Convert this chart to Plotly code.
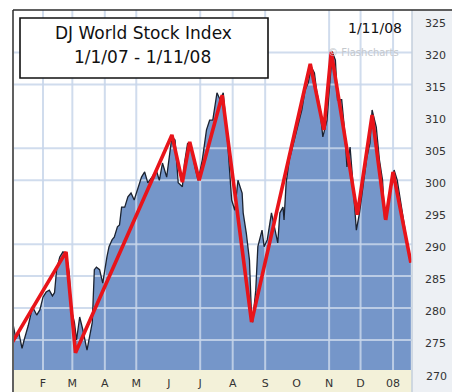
import plotly.graph_objects as go

# ---- data ----
dates = [
    "2007-01-03", "2007-01-06", "2007-01-09", "2007-01-12", "2007-01-14", "2007-01-18",
    "2007-01-22", "2007-01-26", "2007-01-29", "2007-02-01", "2007-02-04", "2007-02-07",
    "2007-02-10", "2007-02-12", "2007-02-14", "2007-02-17", "2007-02-20", "2007-02-23",
    "2007-02-26", "2007-02-28", "2007-03-03", "2007-03-05", "2007-03-08", "2007-03-11",
    "2007-03-15", "2007-03-18", "2007-03-20", "2007-03-22", "2007-03-24", "2007-03-27",
    "2007-03-30", "2007-04-03", "2007-04-05", "2007-04-08", "2007-04-10", "2007-04-13",
    "2007-04-15", "2007-04-17", "2007-04-20", "2007-04-23", "2007-04-26", "2007-04-29",
    "2007-05-02", "2007-05-06", "2007-05-09", "2007-05-12", "2007-05-16", "2007-05-20",
    "2007-05-23", "2007-05-26", "2007-05-30", "2007-06-02", "2007-06-04", "2007-06-07",
    "2007-06-10", "2007-06-14", "2007-06-16", "2007-06-19", "2007-06-23", "2007-06-26",
    "2007-06-29", "2007-07-03", "2007-07-07", "2007-07-10", "2007-07-13", "2007-07-17",
    "2007-07-20", "2007-07-23", "2007-07-25", "2007-07-27", "2007-07-31", "2007-08-03",
    "2007-08-06", "2007-08-10", "2007-08-11", "2007-08-14", "2007-08-17", "2007-08-19",
    "2007-08-20", "2007-08-23", "2007-08-25", "2007-08-29", "2007-08-31", "2007-09-03",
    "2007-09-07", "2007-09-10", "2007-09-13", "2007-09-15", "2007-09-18", "2007-09-19",
    "2007-09-21", "2007-09-24", "2007-09-27", "2007-10-01", "2007-10-06", "2007-10-09",
    "2007-10-12", "2007-10-15", "2007-10-18", "2007-10-20", "2007-10-23", "2007-10-26",
    "2007-10-30", "2007-11-01", "2007-11-04", "2007-11-07", "2007-11-09", "2007-11-13",
    "2007-11-16", "2007-11-18", "2007-11-21", "2007-11-23", "2007-11-27", "2007-11-30",
    "2007-12-03", "2007-12-07", "2007-12-10", "2007-12-12", "2007-12-16", "2007-12-19",
    "2007-12-22", "2007-12-24", "2007-12-27", "2007-12-31", "2008-01-02", "2008-01-05",
    "2008-01-09", "2008-01-12", "2008-01-15", "2008-01-18",
]
index_values = [
    277.8, 275.3, 276.1, 273.7, 275.0, 277.3,
    280.2, 278.9, 279.7, 281.7, 282.5, 282.8,
    281.9, 282.4, 286.0, 288.0, 288.8, 288.6,
    285.5, 279.7, 277.7, 275.0, 278.6, 276.6,
    273.4, 276.1, 277.7, 286.0, 286.4, 286.0,
    283.9, 288.0, 289.6, 290.7, 291.1, 292.7,
    293.0, 295.8, 295.8, 297.4, 298.0, 296.9,
    298.5, 300.5, 301.3, 299.6, 300.5, 301.6,
    300.0, 302.7, 300.5, 304.7, 306.8, 306.3,
    299.6, 299.0, 302.7, 305.8, 304.7, 302.1,
    300.0, 303.2, 307.9, 309.4, 309.4, 313.7,
    312.6, 313.7, 310.2, 306.3, 296.9, 295.3,
    300.0, 298.0, 294.9, 291.7, 287.5, 278.6,
    277.8, 282.8, 289.6, 292.2, 289.6, 290.7,
    294.9, 292.7, 290.2, 294.9, 295.8, 293.8,
    299.6, 303.2, 305.2, 307.9, 311.0, 314.1,
    315.2, 317.7, 316.8, 314.1, 311.5, 306.8,
    309.4, 313.7, 320.1, 318.8, 312.6, 312.6,
    307.4, 302.1, 305.2, 301.1, 292.2, 294.9,
    299.0, 303.6, 305.8, 311.0, 308.3, 303.2,
    300.0, 293.8, 295.8, 299.6, 301.6, 300.0,
    295.8, 292.2, 289.6, 287.2,
]

trend_dates = [
    "2007-01-03", "2007-02-23", "2007-03-04", "2007-06-04", "2007-06-14", "2007-06-21",
    "2007-06-30", "2007-07-22", "2007-08-19", "2007-10-14", "2007-10-27", "2007-11-03",
    "2007-11-28", "2007-12-12", "2007-12-25", "2008-01-01", "2008-01-18",
]
trend_values = [
    274.7, 288.8, 273.0, 307.1, 299.7, 306.0,
    300.0, 313.3, 277.8, 318.2, 307.9, 320.1,
    294.6, 310.2, 293.8, 301.3, 287.1,
]

month_ticks = [
    "2007-02-01", "2007-03-01", "2007-04-01", "2007-05-01", "2007-06-01", "2007-07-01",
    "2007-08-01", "2007-09-01", "2007-10-01", "2007-11-01", "2007-12-01", "2008-01-01",
]
month_labels = ["F", "M", "A", "M", "J", "J", "A", "S", "O", "N", "D", "08"]
y_ticks = [270, 275, 280, 285, 290, 295, 300, 305, 310, 315, 320, 325]

# gridlines that are visible in the reference
grid_months = ["2007-02-01", "2007-03-01", "2007-04-01", "2007-05-01", "2007-07-01",
               "2007-08-01", "2007-09-01", "2007-11-01", "2007-12-01", "2008-01-01"]
grid_levels = [275, 280, 285, 290, 300, 305, 315, 320]

X_RANGE = ["2007-01-04 08:00", "2008-01-19 02:00"]
Y_RANGE = [270.3, 326.65]

FILL = "#7596c9"
GRID = "rgba(200,214,234,0.85)"
FONT = "DejaVu Sans"
LABEL_SHIFT = 3

fig = go.Figure()

# area under the index
fig.add_trace(go.Scatter(
    x=dates, y=index_values, mode="lines", fill="tozeroy",
    fillcolor=FILL, line=dict(width=0, color=FILL), hoverinfo="skip",
))

# gridlines drawn above the fill
vx, vy = [], []
for m in grid_months:
    vx += [m, m, None]
    vy += [Y_RANGE[0], Y_RANGE[1], None]
hx, hy = [], []
for g in grid_levels:
    hx += [X_RANGE[0], X_RANGE[1], None]
    hy += [g, g, None]
fig.add_trace(go.Scatter(x=vx, y=vy, mode="lines", line=dict(color=GRID, width=2),
                         hoverinfo="skip"))
fig.add_trace(go.Scatter(x=hx, y=hy, mode="lines", line=dict(color=GRID, width=2),
                         hoverinfo="skip"))

# daily index line
fig.add_trace(go.Scatter(x=dates, y=index_values, mode="lines",
                         line=dict(color="#1b2230", width=1.3)))
# red trend zig-zag
fig.add_trace(go.Scatter(x=trend_dates, y=trend_values, mode="lines",
                         line=dict(color="#e8141a", width=3.6)))

W, H = 452, 392
L, R, T, B = 14, 40, 10, 22
pw, ph = W - L - R, H - T - B


def px(x):
    return (x - L) / pw


def py(y):
    return (H - B - y) / ph


shapes = [
    # right label strip
    dict(type="rect", xref="paper", yref="paper", x0=1, x1=px(W + 2), y0=py(H + 2), y1=1,
         fillcolor="#edf0f4", line=dict(width=0), layer="below"),
    # beige x-axis band
    dict(type="rect", xref="paper", yref="paper", x0=0, x1=1, y0=py(H + 2), y1=0,
         fillcolor="#f3f1d9", line=dict(width=0), layer="below"),
    # right separator
    dict(type="line", xref="paper", yref="paper", x0=1, x1=1, y0=py(H + 2), y1=1,
         line=dict(color="#c3cfdd", width=1.5)),
    # frame top and left
    dict(type="line", xref="paper", yref="paper", x0=px(13), x1=px(W + 2), y0=1, y1=1,
         line=dict(color="#2b2b2b", width=1.5)),
    dict(type="line", xref="paper", yref="paper", x0=px(13), x1=px(13), y0=py(H + 2), y1=1,
         line=dict(color="#2b2b2b", width=1.5)),
    # title box
    dict(type="rect", xref="paper", yref="paper", x0=px(20), x1=px(268), y0=py(78), y1=py(18),
         fillcolor="white", line=dict(color="#111111", width=1.6), layer="above"),
]

# lowest y label (270) sits just below the plot floor, so place it as text on the axis scale
y_lo = y_ticks[0]
y_lo_paper = (y_lo - Y_RANGE[0]) / (Y_RANGE[1] - Y_RANGE[0]) - 5 / ph

annotations = [
    dict(text="DJ World Stock Index", xref="paper", yref="paper", x=px(143), y=py(33),
         xanchor="center", yanchor="middle", showarrow=False,
         font=dict(family=FONT, size=17, color="#111111")),
    dict(text="1/1/07 - 1/11/08", xref="paper", yref="paper", x=px(142), y=py(57),
         xanchor="center", yanchor="middle", showarrow=False,
         font=dict(family=FONT, size=17, color="#111111")),
    dict(text="1/11/08", xref="paper", yref="paper", x=px(404), y=py(28),
         xanchor="right", yanchor="middle", showarrow=False,
         font=dict(family=FONT, size=14, color="#111111")),
    dict(text="© Flashcharts", xref="paper", yref="paper", x=px(401), y=py(52),
         xanchor="right", yanchor="middle", showarrow=False,
         font=dict(family=FONT, size=10, color="#c4c8cd")),
    dict(text=str(y_lo), xref="paper", yref="paper", x=px(424), y=y_lo_paper,
         xanchor="left", yanchor="middle", showarrow=False,
         font=dict(family=FONT, size=11, color="#333333")),
]

fig.update_layout(
    width=W, height=H,
    margin=dict(l=L, r=R, t=T, b=B, pad=0, autoexpand=False),
    paper_bgcolor="white", plot_bgcolor="white",
    showlegend=False,
    shapes=shapes, annotations=annotations,
    xaxis=dict(type="date", range=X_RANGE, tickmode="array", tickvals=month_ticks,
               ticktext=month_labels, showgrid=False, zeroline=False, showline=False,
               ticks="", ticklabelstandoff=5, automargin=False,
               tickfont=dict(family=FONT, size=11, color="#333333"),
               fixedrange=True),
    yaxis=dict(range=Y_RANGE, side="right", tickmode="array", tickvals=y_ticks[1:],
               showgrid=False, zeroline=False, showline=False, ticks="",
               ticklabelstandoff=12, ticklabelshift=LABEL_SHIFT, automargin=False,
               tickfont=dict(family=FONT, size=11, color="#333333"), fixedrange=True),
)

fig.write_html("out.html")
